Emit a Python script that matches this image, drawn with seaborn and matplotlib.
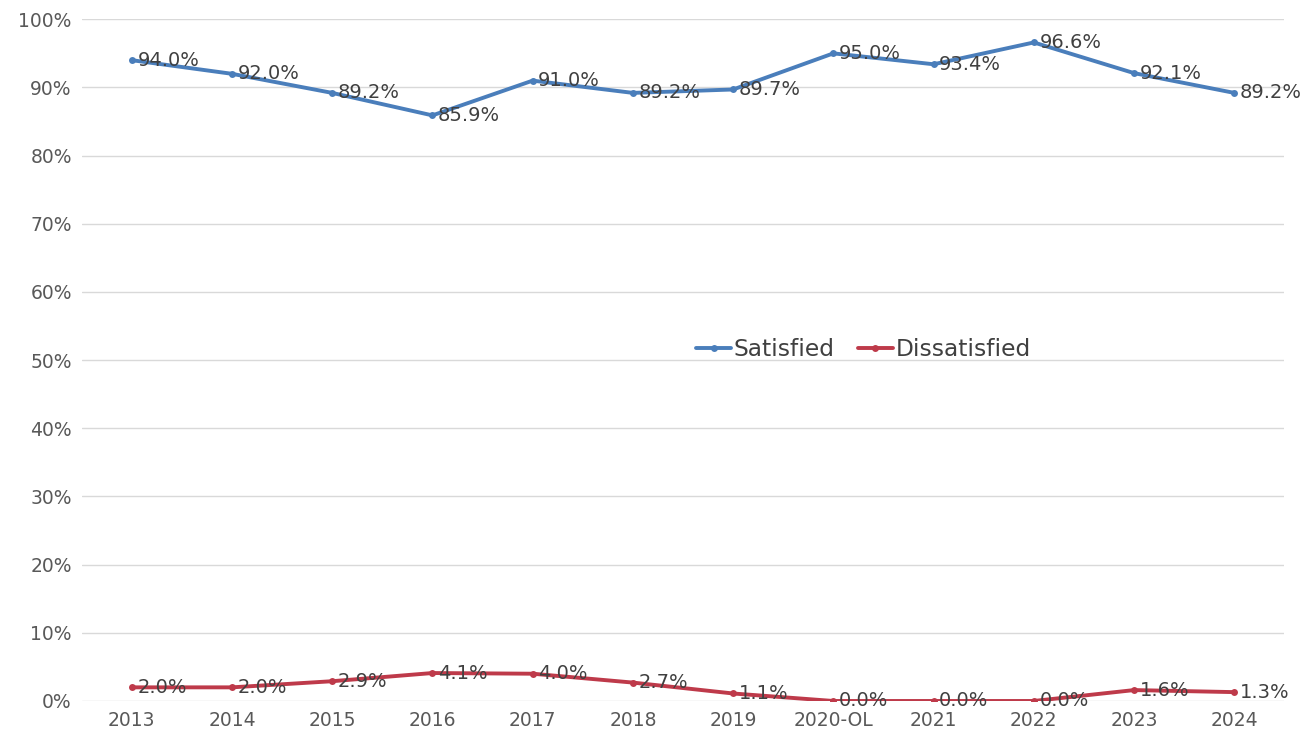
import matplotlib
matplotlib.use("Agg")
import matplotlib.pyplot as plt
import pandas as pd
import seaborn as sns

years = ["2013", "2014", "2015", "2016", "2017", "2018", "2019", "2020-OL",
         "2021", "2022", "2023", "2024"]
satisfied = [94.0, 92.0, 89.2, 85.9, 91.0, 89.2, 89.7, 95.0, 93.4, 96.6, 92.1, 89.2]
dissatisfied = [2.0, 2.0, 2.9, 4.1, 4.0, 2.7, 1.1, 0.0, 0.0, 0.0, 1.6, 1.3]

df = pd.DataFrame({"year": years * 2,
                   "value": satisfied + dissatisfied,
                   "series": ["Satisfied"] * len(years) + ["Dissatisfied"] * len(years)})

sns.set_theme(style="white")
plt.rcParams["font.family"] = ["DejaVu Sans"]

fig, ax = plt.subplots(figsize=(13.16, 7.41), dpi=100)
fig.subplots_adjust(left=0.062, right=0.976, top=0.974, bottom=0.054)

palette = {"Satisfied": "#4A7EBB", "Dissatisfied": "#BE3A4A"}
sns.lineplot(data=df, x="year", y="value", hue="series", palette=palette,
             marker="o", markersize=5, linewidth=2.8, markeredgewidth=0,
             sort=False, ax=ax)

for vals in (satisfied, dissatisfied):
    for i, v in enumerate(vals):
        ax.annotate(f"{v:.1f}%", (i, v), xytext=(4, 0), textcoords="offset points",
                    ha="left", va="center", fontsize=14, color="#404040")

ax.set_xlim(-0.5, len(years) - 0.5)
ax.set_ylim(0, 100)
ax.set_yticks(range(0, 101, 10))
ax.set_yticklabels([f"{t}%" for t in range(0, 101, 10)])
ax.set_xlabel("")
ax.set_ylabel("")
ax.tick_params(axis="both", length=0, labelsize=13.5, colors="#595959", pad=7)
ax.yaxis.grid(True, color="#d9d9d9", linewidth=1)
for s in ax.spines.values():
    s.set_visible(False)

leg = ax.legend(loc="center", bbox_to_anchor=(0.65, 0.515), ncol=2, frameon=False,
                fontsize=16.8, handlelength=1.5, handletextpad=0.1, columnspacing=1.0)
for t in leg.get_texts():
    t.set_color("#404040")

fig.savefig("out.png", dpi=100, facecolor="white")
